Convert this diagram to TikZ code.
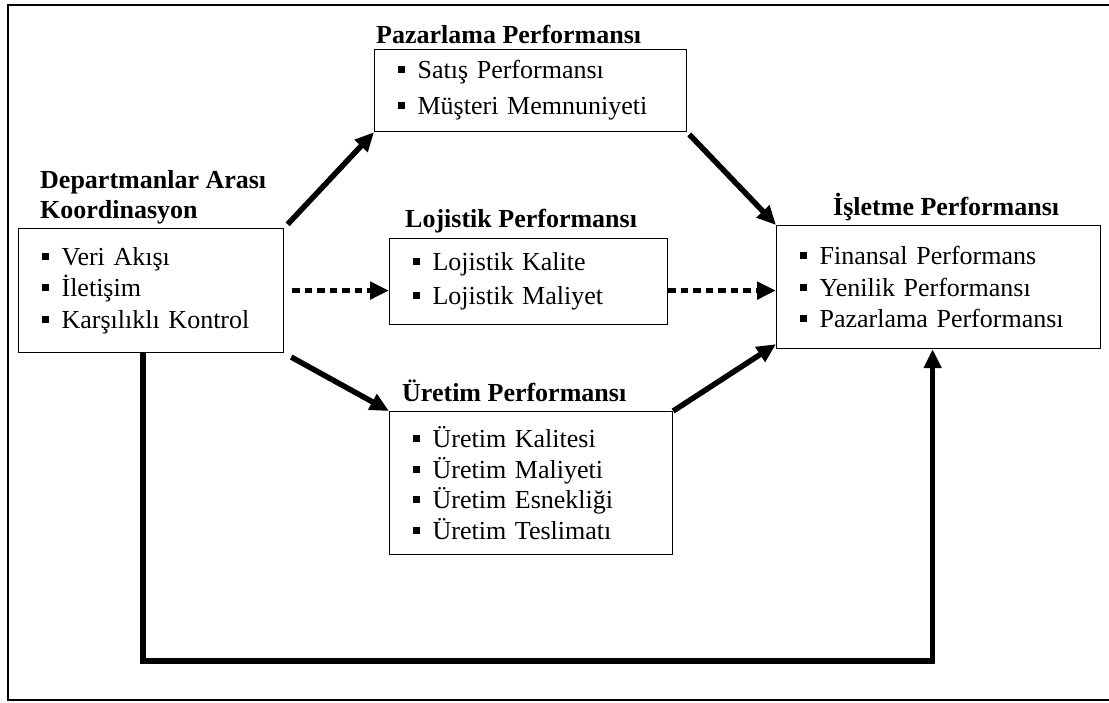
\documentclass[tikz,border=0pt]{standalone}
\usepackage[svgnames]{xcolor}
\usepackage{fontspec}
\setmainfont{Liberation Serif}
\usetikzlibrary{arrows.meta}
\usetikzlibrary{positioning,calc}
\tikzstyle{pbox}=[rectangle,draw=Black,line width=1.2pt,inner xsep=23pt,inner ysep=0pt,align=left,anchor=north west]
\tikzstyle{ptitle}=[inner sep=0pt,font=\fontsize{26}{30}\selectfont\bfseries,align=left,anchor=base west]
\tikzset{arr/.style={-{Triangle[length=19pt,width=17pt]},draw=Black,line width=5.5pt},
  darr/.style={arr,dash pattern=on 7.5pt off 5pt}
}
\newcommand*{\itm}{\rule[5.5pt]{7pt}{7pt}\hspace{13pt}}

\begin{document}
\begin{tikzpicture}[x=1pt,y=-1pt,font=\fontsize{26}{31.5}\selectfont]
    \useasboundingbox (0,0) rectangle (1109,702);
    \draw [line width=1.6pt] (1109,5) -- (8,5) -- (8,700) -- (1109,700);

    \node [pbox,text width=219pt,minimum height=124pt] (dept) at (18,228)
        {\itm Veri Akışı\\ \itm İletişim\\ \itm Karşılıklı Kontrol};
    \node [pbox,text width=266pt,minimum height=82pt,font=\fontsize{26}{36}\selectfont] (pazar) at (374,49)
        {\itm Satış Performansı\\ \itm Müşteri Memnuniyeti};
    \node [pbox,text width=232pt,minimum height=86pt,font=\fontsize{26}{34}\selectfont] (lojist) at (389,238)
        {\itm Lojistik Kalite\\ \itm Lojistik Maliyet};
    \node [pbox,text width=237pt,minimum height=143pt,font=\fontsize{26}{30.5}\selectfont] (uretim) at (389,411)
        {\itm Üretim Kalitesi\\ \itm Üretim Maliyeti\\ \itm Üretim Esnekliği\\ \itm Üretim Teslimatı};
    \node [pbox,text width=278pt,minimum height=123pt] (islet) at (776,225)
        {\itm Finansal Performans\\ \itm Yenilik Performansı\\ \itm Pazarlama Performansı};

    \node [ptitle] (deptT) at (40,218) {Departmanlar Arası\\Koordinasyon};
    \node [ptitle] (pazarT) at (376,43) {Pazarlama Performansı};
    \node [ptitle] (lojistT) at (405,227) {Lojistik Performansı};
    \node [ptitle] (uretimT) at (402,401) {Üretim Performansı};
    \node [ptitle] (isletT) at (833,215) {İşletme Performansı};

    \coordinate (fb) at (0,661);

    \draw [arr,shorten <=5pt] (dept.north east) -- (pazar.south west);
    \draw [arr,shorten <=3pt] (pazar.south east) -- (islet.north west);
    \draw [arr,shorten <=8pt] (dept.south east) -- (uretim.north west);
    \draw [arr] (uretim.north east) -- ([yshift=5pt]islet.south west);
    \draw [darr,shorten <=8pt] (dept.east) -- (lojist.west |- dept.east);
    \draw [darr] (lojist.east |- dept.east) -- (islet.west |- dept.east);
    \draw [arr,line join=miter] ([xshift=-8pt]dept.south) |- ([xshift=-6pt]islet.south |- fb) -- ([xshift=-6pt]islet.south);
\end{tikzpicture}
\end{document}
